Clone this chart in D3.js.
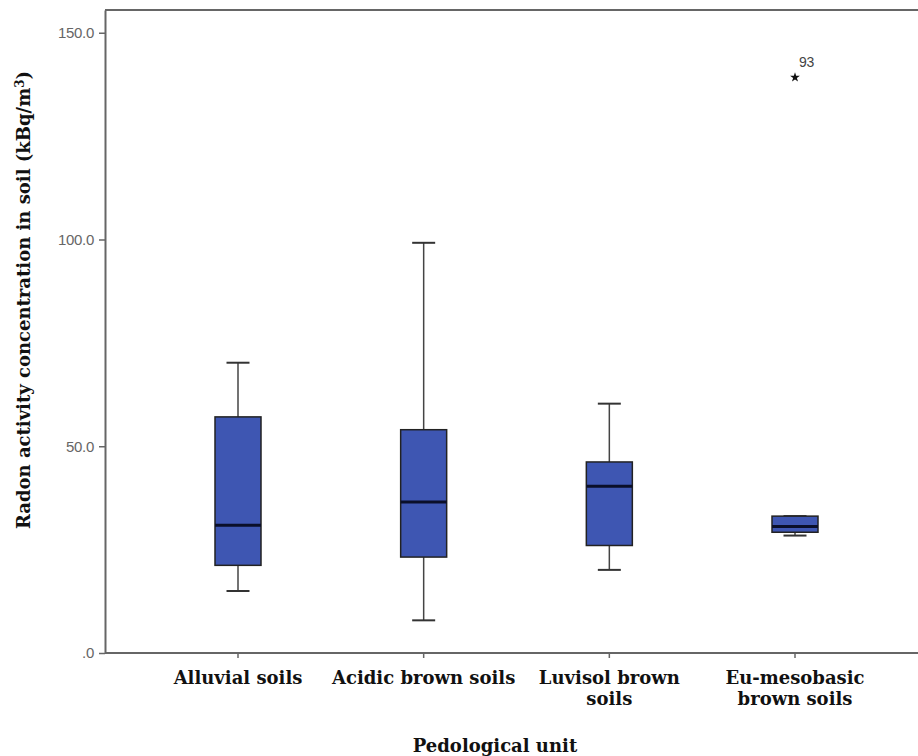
<!DOCTYPE html>
<html>
<head>
<meta charset="utf-8">
<script src="https://cdn.jsdelivr.net/npm/d3@7"></script>
<style>
  body { margin: 0; background: #fff; }
  svg { display: block; }
</style>
</head>
<body>
<div id="chart"></div>
<script>
// Box plot values (kBq/m3)
const units = ["Alluvial soils", "Acidic brown soils", "Luvisol brown soils", "Eu-mesobasic brown soils"];
const unitLines = [["Alluvial soils"], ["Acidic brown soils"], ["Luvisol brown", "soils"], ["Eu-mesobasic", "brown soils"]];
const whiskerLow = [15.0, 7.9, 20.1, 28.4];
const q1 = [21.2, 23.2, 26.0, 29.2];
const median = [30.9, 36.5, 40.3, 30.6];
const q3 = [57.1, 54.0, 46.2, 33.1];
const whiskerHigh = [70.2, 99.2, 60.3, 33.1];
const outliers = [{unit: "Eu-mesobasic brown soils", value: 139.2, label: "93"}];
const yTicks = [0, 50, 100, 150];

const width = 918, height = 756;
const margin = {top: 10, right: 0, bottom: 103, left: 105};

const svg = d3.select("#chart").append("svg")
    .attr("width", width)
    .attr("height", height);

const y = d3.scaleLinear()
    .domain([0, 155.5])
    .range([height - margin.bottom, margin.top]);

const x = d3.scalePoint()
    .domain(units)
    .range([238, 795]);

const boxW = 46;
const capW = 23;
const axisColor = "#666";
const serif = "'DejaVu Serif', serif";
const sans = "Arial, 'Liberation Sans', sans-serif";

// frame: top line, left axis, bottom axis
svg.append("line")
    .attr("x1", margin.left).attr("x2", width)
    .attr("y1", y(155.5)).attr("y2", y(155.5))
    .attr("stroke", axisColor).attr("stroke-width", 2);

const yAxis = svg.append("g")
    .attr("transform", `translate(${margin.left},0)`)
    .call(d3.axisLeft(y).tickValues(yTicks).tickSize(6).tickSizeOuter(0)
        .tickFormat(d => d === 0 ? ".0" : d3.format(".1f")(d)));
yAxis.select(".domain").attr("stroke", axisColor).attr("stroke-width", 2);
yAxis.selectAll(".tick line").attr("stroke", axisColor).attr("stroke-width", 1.5);
yAxis.selectAll(".tick text")
    .attr("fill", "#666")
    .attr("x", -11)
    .style("font-family", sans)
    .style("font-size", "15px")
    .style("letter-spacing", "-0.3px");

svg.append("line")
    .attr("x1", margin.left).attr("x2", width)
    .attr("y1", y(0)).attr("y2", y(0))
    .attr("stroke", axisColor).attr("stroke-width", 2);

// category ticks
svg.selectAll(".xtick")
    .data(units)
    .enter().append("line")
    .attr("x1", d => x(d)).attr("x2", d => x(d))
    .attr("y1", y(0)).attr("y2", y(0) + 5)
    .attr("stroke", axisColor).attr("stroke-width", 1.5);

// category labels
const labels = svg.selectAll(".xlabel")
    .data(units)
    .enter().append("text")
    .attr("x", d => x(d))
    .attr("y", y(0) + 31)
    .attr("text-anchor", "middle")
    .attr("fill", "#111")
    .style("font-family", serif)
    .style("font-weight", "bold")
    .style("font-size", "18px");
labels.each(function(d, i) {
    d3.select(this).selectAll("tspan")
        .data(unitLines[i])
        .enter().append("tspan")
        .attr("x", x(d))
        .attr("dy", (t, j) => j === 0 ? 0 : 21)
        .text(t => t);
});

// whiskers and boxes
const g = svg.append("g");
units.forEach((u, i) => {
    const cx = x(u);
    g.append("line")
        .attr("x1", cx).attr("x2", cx)
        .attr("y1", y(whiskerHigh[i])).attr("y2", y(q3[i]))
        .attr("stroke", "#444").attr("stroke-width", 1.5);
    g.append("line")
        .attr("x1", cx).attr("x2", cx)
        .attr("y1", y(q1[i])).attr("y2", y(whiskerLow[i]))
        .attr("stroke", "#444").attr("stroke-width", 1.5);
    [whiskerHigh[i], whiskerLow[i]].forEach(v => {
        g.append("line")
            .attr("x1", cx - capW / 2).attr("x2", cx + capW / 2)
            .attr("y1", y(v)).attr("y2", y(v))
            .attr("stroke", "#333").attr("stroke-width", 2);
    });
    g.append("rect")
        .attr("x", cx - boxW / 2)
        .attr("y", y(q3[i]))
        .attr("width", boxW)
        .attr("height", y(q1[i]) - y(q3[i]))
        .attr("fill", "#3e56b2")
        .attr("stroke", "#222")
        .attr("stroke-width", 1.5);
    g.append("line")
        .attr("x1", cx - boxW / 2).attr("x2", cx + boxW / 2)
        .attr("y1", y(median[i])).attr("y2", y(median[i]))
        .attr("stroke", "#0a0f2a").attr("stroke-width", 3);
});

// extreme outliers
outliers.forEach(o => {
    g.append("path")
        .attr("d", d3.symbol().type(d3.symbolStar).size(30)())
        .attr("transform", `translate(${x(o.unit)},${y(o.value)})`)
        .attr("fill", "#111");
    g.append("text")
        .attr("x", x(o.unit) + 4)
        .attr("y", y(o.value) - 10)
        .attr("fill", "#444")
        .style("font-family", sans)
        .style("font-size", "14px")
        .style("letter-spacing", "-0.4px")
        .text(o.label);
});

// axis titles
svg.append("text")
    .attr("x", 495)
    .attr("y", 752)
    .attr("text-anchor", "middle")
    .attr("fill", "#111")
    .style("font-family", serif)
    .style("font-weight", "bold")
    .style("font-size", "18px")
    .text("Pedological unit");

const yTitle = svg.append("text")
    .attr("transform", "translate(30,300) rotate(-90)")
    .attr("text-anchor", "middle")
    .attr("fill", "#111")
    .style("font-family", serif)
    .style("font-weight", "bold")
    .style("font-size", "18px");
yTitle.append("tspan").text("Radon activity concentration in soil  (kBq/m");
yTitle.append("tspan").attr("dy", -6).style("font-size", "12px").text("3");
yTitle.append("tspan").attr("dy", 6).text(")");
</script>
</body>
</html>
